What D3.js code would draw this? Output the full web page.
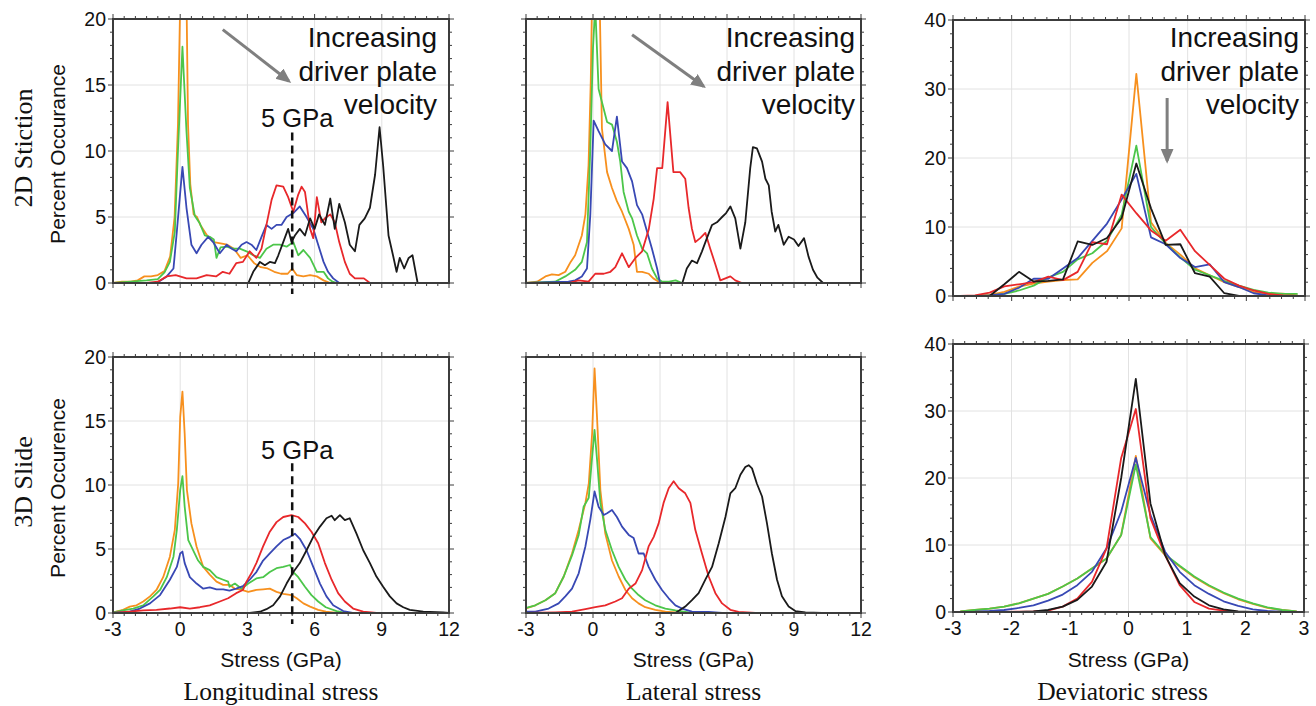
<!DOCTYPE html>
<html>
<head>
<meta charset="utf-8">
<script src="https://cdn.jsdelivr.net/npm/d3@7"></script>
<style>
  html, body { margin: 0; padding: 0; background: #fff; }
  svg { display: block; }
</style>
</head>
<body>
<div id="chart"></div>
<script>
// Stress histograms, 2D stiction vs 3D slide
// series order everywhere: orange, green, blue, red, black (slow -> fast driver plate)

const seriesColors = ["#f7901e", "#4cc64a", "#3848b4", "#e8282b", "#1a1a1a"];

// --- 2D Stiction, longitudinal stress [GPa, %] ---
const stLongOrange = [[-3,0],[-2.6,0.1],[-2.2,0.1],[-1.9,0.2],[-1.6,0.5],[-1.3,0.5],[-1.0,0.6],[-0.7,0.9],[-0.45,2],[-0.25,5],[-0.1,12],[0.05,26],[0.25,26],[0.35,12],[0.45,7.5],[0.6,5.2],[0.75,5.0],[0.9,4.4],[1.2,3.6],[1.5,3.1],[1.8,3.0],[2.1,2.9],[2.4,2.6],[2.7,1.9],[3.0,2.1],[3.3,1.5],[3.6,1.2],[3.9,1.1],[4.2,0.85],[4.5,0.7],[4.8,0.7],[5.0,1.1],[5.2,0.6],[5.5,0.5],[5.8,0.6],[6.1,0.5],[6.4,0.2],[6.7,0]];
const stLongGreen = [[-3,0],[-2.2,0.1],[-1.5,0.2],[-1.0,0.3],[-0.7,0.8],[-0.46,1.6],[-0.24,3.9],[-0.1,10],[0.1,17.9],[0.28,11.5],[0.43,7.2],[0.65,5.1],[0.88,4.5],[1.1,3.6],[1.32,3.5],[1.5,3.3],[1.62,1.9],[1.8,2.7],[2.07,2.75],[2.37,2.6],[2.66,2.6],[2.96,2.4],[3.26,2.1],[3.56,1.9],[3.85,2.6],[4.15,2.9],[4.45,2.9],[4.75,2.75],[5.05,3.1],[5.27,2.1],[5.5,2.5],[5.8,1.9],[6.1,0.85],[6.4,0.85],[6.6,0.35],[6.8,0.1],[7.0,0]];
const stLongBlue = [[-3,0],[-1.05,0],[-0.6,0.5],[-0.3,1.1],[-0.15,3.9],[0.1,8.8],[0.28,5.7],[0.5,2.9],[0.73,2.25],[0.95,2.9],[1.25,3.5],[1.47,3.1],[1.77,2.25],[2.07,2.9],[2.3,2.6],[2.5,2.4],[2.74,2.9],[2.96,3.1],[3.18,2.9],[3.4,2.5],[3.63,3.5],[3.85,4.4],[4.08,4.1],[4.3,4.4],[4.52,4.4],[4.75,5.0],[5.05,5.3],[5.34,5.8],[5.64,5.0],[5.94,4.1],[6.16,2.9],[6.4,1.6],[6.6,0.85],[6.83,0.35],[7.1,0]];
const stLongRed = [[-3,0],[-1.5,0],[-1.0,0.1],[-0.6,0.5],[-0.2,0.6],[0.28,0.35],[0.73,0.35],[1.18,0.6],[1.6,0.5],[1.9,0.85],[2.2,0.7],[2.5,1.5],[2.8,1.6],[3.1,2.4],[3.4,1.9],[3.63,2.6],[3.85,4.4],[4.08,6.3],[4.3,7.4],[4.6,7.3],[4.82,6.5],[5.05,5.4],[5.27,6.7],[5.42,7.3],[5.57,6.9],[5.8,4.1],[5.94,3.4],[6.1,6.5],[6.3,4.6],[6.46,4.9],[6.7,5.2],[6.9,4.6],[7.1,3.1],[7.35,1.6],[7.57,0.7],[7.8,0.35],[8.2,0.35],[8.47,0]];
const stLongBlack = [[3.04,0],[3.26,0.85],[3.56,1.6],[3.78,1.35],[4.0,1.6],[4.23,1.5],[4.38,2.1],[4.6,3.1],[4.82,4.1],[4.97,3.1],[5.12,3.6],[5.34,4.1],[5.57,3.6],[5.8,4.9],[6.0,4.1],[6.2,5.2],[6.46,4.4],[6.7,6.4],[6.9,4.1],[7.1,6.0],[7.35,4.6],[7.57,2.9],[7.8,2.4],[8.0,4.4],[8.24,4.9],[8.47,5.7],[8.7,8.2],[8.9,11.8],[9.06,8.9],[9.3,3.6],[9.5,2.1],[9.66,0.85],[9.8,1.9],[10.0,1.1],[10.2,1.9],[10.37,2.1],[10.6,0]];

// --- 2D Stiction, lateral stress ---
const stLatOrange = [[-3,0],[-2.5,0.1],[-2.13,0.5],[-1.84,0.65],[-1.54,0.6],[-1.24,0.85],[-1.0,1.6],[-0.8,2.1],[-0.64,2.9],[-0.5,3.6],[-0.34,5.2],[-0.2,8.9],[-0.1,15.3],[0.0,26],[0.25,26],[0.4,11.7],[0.63,8.4],[0.85,7.2],[1.07,6.2],[1.3,5.4],[1.6,4.1],[1.82,2.9],[1.97,0.85],[2.2,0.85],[2.5,0.7],[2.7,0.35],[2.94,0.1],[3.2,0]];
const stLatGreen = [[-3,0],[-1.7,0.1],[-1.24,0.5],[-0.8,1.0],[-0.5,1.6],[-0.27,3.1],[-0.12,10.2],[0.0,17.8],[0.1,21],[0.25,14.7],[0.63,12.2],[0.85,12.0],[1.07,10.7],[1.22,9.2],[1.37,6.9],[1.6,5.4],[1.75,4.9],[1.97,3.6],[2.2,2.6],[2.42,2.25],[2.64,1.1],[2.87,0.35],[3.1,0.1],[3.4,0.1],[3.7,0.2],[4.0,0]];
const stLatBlue = [[-3,0],[-1.1,0.1],[-0.8,0.2],[-0.5,0.5],[-0.27,1.1],[-0.12,5.2],[0.03,12.3],[0.25,11.5],[0.55,10.5],[0.85,10.0],[1.07,12.6],[1.3,9.2],[1.52,8.7],[1.75,7.7],[1.97,5.9],[2.2,5.2],[2.42,3.9],[2.64,2.6],[2.87,1.1],[3.0,0]];
const stLatRed = [[-1.1,0],[-0.64,0.2],[-0.2,0.1],[0.1,0.7],[0.48,0.7],[0.78,0.85],[1.0,1.2],[1.3,2.25],[1.6,1.2],[1.9,1.9],[2.2,2.4],[2.5,4.1],[2.72,6.4],[2.87,8.7],[3.1,8.7],[3.34,13.7],[3.6,8.4],[3.9,8.4],[4.13,7.9],[4.28,5.7],[4.43,4.1],[4.58,3.1],[4.8,3.4],[5.03,3.8],[5.25,2.6],[5.48,1.4],[5.7,0.2],[5.93,0.35],[6.15,0.5],[6.37,0.2],[6.67,0]];
const stLatBlack = [[4.0,0],[4.2,1.1],[4.43,1.7],[4.66,1.5],[4.88,2.4],[5.1,3.4],[5.33,4.4],[5.55,4.6],[5.78,5.0],[5.96,5.3],[6.15,5.8],[6.37,4.9],[6.6,2.6],[6.82,4.6],[7.04,8.7],[7.16,10.3],[7.34,10.2],[7.57,9.2],[7.72,7.9],[7.87,7.4],[8.0,5.4],[8.16,3.9],[8.3,4.4],[8.54,2.9],[8.76,3.5],[9.0,3.3],[9.2,2.8],[9.45,3.4],[9.65,2.0],[9.85,1.0],[10.05,0.4],[10.3,0]];

// --- deviatoric stress, bin centres ---
const devX = [-2.875,-2.625,-2.375,-2.125,-1.875,-1.625,-1.375,-1.125,-0.875,-0.625,-0.375,-0.125,0.125,0.375,0.625,0.875,1.125,1.375,1.625,1.875,2.125,2.375,2.625,2.875];

const stDevOrange = [0,0,0.15,0.6,1.35,1.8,2.1,2.3,2.4,4.8,6.5,9.8,32.2,10.7,7.7,6.0,4.0,3.0,2.0,1.3,0.6,0.3,0.35,0.1];
const stDevGreen  = [0,0,0.1,0.3,0.8,1.5,2.7,3.5,5.3,6.2,8.0,11.8,21.8,10.0,7.6,5.6,3.8,3.0,2.2,1.5,0.9,0.5,0.3,0.3];
const stDevBlue   = [0,0,0.1,0.3,1.2,2.5,2.5,4.0,5.5,8.0,10.5,14.0,17.7,8.5,7.5,5.5,4.2,4.6,2.0,1.3,0.4,0.1,0,0];
const stDevRed    = [0,0.1,0.5,1.4,1.7,2.0,2.8,2.3,3.5,7.8,7.5,14.7,12.0,9.5,8.0,9.6,6.5,4.5,2.5,1.5,0.8,0.3,0.1,0];
const stDevBlack  = [0,0,0,1.7,3.5,2.1,2.2,2.4,7.9,7.4,8.4,11.3,19.2,12.7,7.4,7.5,3.3,2.8,0.4,0,0,0,0,0];

// --- 3D Slide, longitudinal stress ---
const ssLongOrange = [[-3,0.05],[-2.55,0.25],[-2.25,0.5],[-1.95,0.6],[-1.65,0.9],[-1.35,1.3],[-1.06,1.8],[-0.76,2.8],[-0.46,4.4],[-0.24,6.5],[-0.09,10.1],[0.0,15.3],[0.1,17.3],[0.2,14],[0.3,9.6],[0.5,7.0],[0.73,5.2],[1.03,3.6],[1.32,3.0],[1.62,2.45],[1.92,2.2],[2.2,2.2],[2.44,1.9],[2.74,1.8],[3.04,1.65],[3.4,1.8],[3.7,1.85],[4.0,1.9],[4.3,1.65],[4.6,1.5],[4.97,1.4],[5.2,1.15],[5.5,0.75],[5.8,0.5],[6.16,0.25],[6.5,0.1],[7.0,0]];
const ssLongGreen = [[-3,0.05],[-2.55,0.2],[-2.1,0.35],[-1.65,0.6],[-1.2,1.3],[-0.9,1.8],[-0.6,2.8],[-0.3,4.4],[-0.15,6.5],[0,9.6],[0.1,10.7],[0.2,8.3],[0.36,5.7],[0.58,4.9],[0.8,4.1],[1.03,3.6],[1.32,3.35],[1.62,2.8],[1.92,2.6],[2.14,2.45],[2.2,2.05],[2.44,2.3],[2.74,1.9],[3.04,2.3],[3.4,2.7],[3.7,2.8],[4.0,3.2],[4.3,3.5],[4.6,3.6],[4.9,3.75],[5.05,3.2],[5.27,2.8],[5.57,2.05],[5.86,1.4],[6.16,0.9],[6.5,0.45],[6.98,0.15],[7.4,0]];
const ssLongBlue = [[-3,0],[-2.25,0.1],[-1.8,0.35],[-1.35,0.75],[-0.9,1.4],[-0.46,2.6],[-0.15,3.6],[0,4.65],[0.1,4.8],[0.2,3.9],[0.43,2.8],[0.73,2.3],[1.03,1.9],[1.32,2.0],[1.62,1.85],[1.92,1.85],[2.2,1.75],[2.5,1.9],[2.8,2.1],[3.1,2.6],[3.4,3.2],[3.7,4.1],[4.0,4.65],[4.3,5.2],[4.6,5.7],[4.9,5.95],[5.12,6.2],[5.34,5.8],[5.64,4.9],[5.94,3.6],[6.24,2.3],[6.53,1.3],[6.83,0.6],[7.28,0.15],[7.7,0]];
const ssLongRed = [[-3,0],[-2.25,0.1],[-1.65,0.2],[-1.06,0.25],[-0.46,0.35],[0,0.45],[0.43,0.35],[0.88,0.45],[1.32,0.6],[1.77,0.9],[2.14,1.15],[2.5,1.55],[2.8,1.8],[2.96,2.45],[3.18,3.1],[3.4,3.9],[3.7,5.2],[4.0,6.35],[4.3,7.1],[4.6,7.5],[4.97,7.65],[5.27,7.5],[5.57,7.0],[5.86,6.35],[6.16,5.45],[6.46,3.9],[6.76,2.6],[7.05,1.55],[7.35,0.9],[7.72,0.35],[8.17,0.1],[8.76,0]];
const ssLongBlack = [[3.1,0],[3.56,0.1],[3.85,0.3],[4.15,0.6],[4.46,1.3],[4.75,2.3],[5.05,3.2],[5.34,3.9],[5.64,4.9],[5.94,5.95],[6.24,6.75],[6.53,7.4],[6.76,7.6],[6.9,7.25],[7.13,7.65],[7.35,7.25],[7.57,7.4],[7.87,6.2],[8.17,4.9],[8.47,3.9],[8.76,2.85],[9.06,2.05],[9.36,1.3],[9.66,0.75],[9.96,0.45],[10.25,0.25],[10.85,0.1],[11.74,0.05],[12,0]];

// --- 3D Slide, lateral stress ---
const ssLatOrange = [[-3,0.35],[-2.58,0.6],[-2.13,1.0],[-1.69,1.55],[-1.31,2.85],[-0.94,4.65],[-0.64,6.5],[-0.34,8.6],[-0.19,10.1],[-0.04,14],[0.07,19.1],[0.18,15.3],[0.33,9.6],[0.55,6.2],[0.85,4.1],[1.15,2.85],[1.45,1.8],[1.75,1.15],[2.04,0.75],[2.34,0.45],[2.79,0.25],[3.24,0.1],[3.84,0.03],[4.3,0]];
const ssLatGreen = [[-3,0.4],[-2.58,0.6],[-2.13,1.0],[-1.69,1.55],[-1.31,2.85],[-0.94,4.5],[-0.64,6.1],[-0.42,8.3],[-0.19,9.0],[-0.04,12.2],[0.07,14.3],[0.18,12],[0.33,8.6],[0.55,6.5],[0.85,4.9],[1.15,3.6],[1.45,2.6],[1.75,1.9],[2.04,1.4],[2.34,1.0],[2.79,0.6],[3.24,0.35],[3.69,0.2],[4.28,0.05],[4.8,0]];
const ssLatBlue = [[-3,0.1],[-2.58,0.1],[-1.99,0.35],[-1.54,0.75],[-1.24,1.3],[-0.94,1.9],[-0.64,3.1],[-0.34,5.2],[-0.12,7.3],[0.07,9.5],[0.25,8.3],[0.48,7.65],[0.63,7.8],[0.85,8.05],[1.07,7.5],[1.3,6.75],[1.6,6.1],[1.82,5.85],[2.04,4.65],[2.27,4.65],[2.49,3.6],[2.79,2.6],[3.09,1.8],[3.39,1.15],[3.69,0.6],[3.99,0.35],[4.43,0.1],[5.18,0.08],[5.78,0]];
const ssLatRed = [[-3,0],[-1.69,0.05],[-0.94,0.1],[-0.34,0.3],[0.1,0.45],[0.55,0.6],[1.0,0.9],[1.3,1.15],[1.6,1.9],[1.9,2.3],[2.2,3.35],[2.49,5.2],[2.72,5.95],[2.94,7.0],[3.16,8.6],[3.39,9.75],[3.61,10.3],[3.84,9.75],[4.13,9.35],[4.36,8.6],[4.58,6.5],[4.88,4.65],[5.18,2.85],[5.48,1.55],[5.78,0.75],[6.15,0.25],[6.52,0.08],[7.27,0]];
const ssLatBlack = [[3.69,0],[4.13,0.5],[4.43,1.0],[4.73,1.55],[5.03,2.6],[5.33,3.6],[5.63,5.45],[5.93,7.5],[6.15,9.35],[6.37,9.75],[6.6,10.8],[6.82,11.4],[6.97,11.55],[7.12,11.3],[7.34,10.1],[7.57,9.1],[7.79,7.0],[8.01,4.65],[8.24,2.6],[8.46,1.3],[8.76,0.5],[9.06,0.15],[9.51,0.05],[10.25,0]];

// --- 3D Slide, deviatoric stress ---
const ssDevOrange = [0.1,0.3,0.5,0.8,1.3,2.0,2.7,3.8,5.0,6.5,8.0,11.5,23.3,11.0,8.5,6.8,5.2,3.9,2.8,1.9,1.2,0.6,0.3,0.1];
const ssDevGreen  = [0.1,0.3,0.5,0.8,1.3,2.0,2.7,3.8,5.0,6.5,8.0,11.5,22.0,11.2,8.6,6.9,5.3,4.0,2.9,2.0,1.3,0.7,0.3,0.1];
const ssDevBlue   = [0,0.05,0.15,0.3,0.6,1.0,1.7,2.6,4.0,6.0,9.5,15.0,23.0,14.5,9.0,6.0,4.0,2.7,1.6,0.9,0.4,0.15,0.05,0];
const ssDevRed    = [0,0,0,0,0.05,0.1,0.2,0.8,2.0,4.5,9.5,23.0,30.3,14.0,8.5,4.0,1.5,0.5,0.2,0,0,0,0,0];
const ssDevBlack  = [0,0,0,0,0,0.1,0.3,0.8,1.8,3.8,7.5,20.0,34.8,16.2,8.5,4.3,2.3,1.0,0.4,0.1,0,0,0,0];

const rowLabels = ["2D Stiction", "3D Slide"];
const yTitles = ["Percent Occurance", "Percent Occurence"];
const colTitles = ["Longitudinal stress", "Lateral stress", "Deviatoric stress"];

const devPts = ys => devX.map((x, i) => [x, ys[i]]);

const W = 1316, H = 706;
const sans = "'Liberation Sans', Arial, Helvetica, sans-serif";
const serif = "'Liberation Serif', 'Times New Roman', serif";

const svg = d3.select("#chart").append("svg")
  .attr("width", W)
  .attr("height", H)
  .style("font-family", sans);

// arrow head for annotations
svg.append("defs").append("marker")
  .attr("id", "arrowhead")
  .attr("markerUnits", "userSpaceOnUse")
  .attr("markerWidth", 16).attr("markerHeight", 14)
  .attr("refX", 12).attr("refY", 6.5)
  .attr("orient", "auto")
  .append("path")
  .attr("d", "M0,0 L15,6.5 L0,13 Z")
  .attr("fill", "#7f7f7f");

const longDom = [-3, 12], devDom = [-3, 3];

const panels = [
  { id: "p1", row: 0, col: 0, left: 113, right: 449, top: 19, bottom: 283, xDom: longDom, yDom: [0, 20],
    xStep: 3, xMinor: 0.5, yStep: 5, yMinor: 1, yLabels: true, xLabels: false,
    series: [stLongOrange, stLongGreen, stLongBlue, stLongRed, stLongBlack],
    arrow: [[1.9, 19.2], [4.85, 15.3]], note: 437, gpa: { label: 11.8, top: 11.4 } },
  { id: "p2", row: 0, col: 1, left: 526, right: 861, top: 19, bottom: 283, xDom: longDom, yDom: [0, 20],
    xStep: 3, xMinor: 0.5, yStep: 5, yMinor: 1, yLabels: false, xLabels: false,
    series: [stLatOrange, stLatGreen, stLatBlue, stLatRed, stLatBlack],
    arrow: [[1.75, 18.8], [4.95, 14.9]], note: 855 },
  { id: "p3", row: 0, col: 2, left: 953, right: 1305, top: 20, bottom: 296, xDom: devDom, yDom: [0, 40],
    xStep: 1, xMinor: 0.2, yStep: 10, yMinor: 2, yLabels: true, xLabels: false,
    series: [stDevOrange, stDevGreen, stDevBlue, stDevRed, stDevBlack].map(devPts),
    arrow: [[0.65, 28.7], [0.65, 19.6]], note: 1299 },
  { id: "p4", row: 1, col: 0, left: 113, right: 449, top: 357, bottom: 613, xDom: longDom, yDom: [0, 20],
    xStep: 3, xMinor: 0.5, yStep: 5, yMinor: 1, yLabels: true, xLabels: true,
    series: [ssLongOrange, ssLongGreen, ssLongBlue, ssLongRed, ssLongBlack],
    gpa: { label: 12.0, top: 11.7 } },
  { id: "p5", row: 1, col: 1, left: 526, right: 861, top: 357, bottom: 613, xDom: longDom, yDom: [0, 20],
    xStep: 3, xMinor: 0.5, yStep: 5, yMinor: 1, yLabels: false, xLabels: true,
    series: [ssLatOrange, ssLatGreen, ssLatBlue, ssLatRed, ssLatBlack] },
  { id: "p6", row: 1, col: 2, left: 953, right: 1304, top: 344, bottom: 612, xDom: devDom, yDom: [0, 40],
    xStep: 1, xMinor: 0.2, yStep: 10, yMinor: 2, yLabels: true, xLabels: true,
    series: [ssDevOrange, ssDevGreen, ssDevBlue, ssDevRed, ssDevBlack].map(devPts) }
];

const steps = (dom, s) => d3.range(0, Math.round((dom[1] - dom[0]) / s) + 1).map(i => +(dom[0] + i * s).toFixed(4));
const isMajor = (v, dom, s) => Math.abs((v - dom[0]) / s - Math.round((v - dom[0]) / s)) < 1e-6;

panels.forEach(p => {
  const x = d3.scaleLinear().domain(p.xDom).range([p.left, p.right]);
  const y = d3.scaleLinear().domain(p.yDom).range([p.bottom, p.top]);
  const g = svg.append("g").attr("class", "panel");

  const xMaj = steps(p.xDom, p.xStep);
  const yMaj = steps(p.yDom, p.yStep);

  // grid
  g.append("g").selectAll("line").data(xMaj.slice(1, -1)).join("line")
    .attr("x1", d => x(d)).attr("x2", d => x(d))
    .attr("y1", p.top).attr("y2", p.bottom)
    .attr("stroke", "#e2e2e2").attr("stroke-width", 1);
  g.append("g").selectAll("line").data(yMaj.slice(1, -1)).join("line")
    .attr("y1", d => y(d)).attr("y2", d => y(d))
    .attr("x1", p.left).attr("x2", p.right)
    .attr("stroke", "#e2e2e2").attr("stroke-width", 1);

  // curves
  g.append("clipPath").attr("id", "clip-" + p.id)
    .append("rect")
    .attr("x", p.left).attr("y", p.top)
    .attr("width", p.right - p.left).attr("height", p.bottom - p.top);

  const line = d3.line().x(d => x(d[0])).y(d => y(d[1]));

  g.append("g").attr("clip-path", `url(#clip-${p.id})`)
    .selectAll("path").data(p.series).join("path")
    .attr("d", line)
    .attr("fill", "none")
    .attr("stroke", (d, i) => seriesColors[i])
    .attr("stroke-width", 1.8)
    .attr("stroke-linejoin", "round");

  // frame
  g.append("rect")
    .attr("x", p.left).attr("y", p.top)
    .attr("width", p.right - p.left).attr("height", p.bottom - p.top)
    .attr("fill", "none").attr("stroke", "#3c3c3c").attr("stroke-width", 2);

  // ticks, outward on all four sides
  const tx = steps(p.xDom, p.xMinor).map(v => ({ v, len: isMajor(v, p.xDom, p.xStep) ? 5 : 3 }));
  const ty = steps(p.yDom, p.yMinor).map(v => ({ v, len: isMajor(v, p.yDom, p.yStep) ? 5 : 3 }));
  const ticks = g.append("g").attr("stroke", "#3c3c3c").attr("stroke-width", 1);
  tx.forEach(t => {
    ticks.append("line").attr("x1", x(t.v)).attr("x2", x(t.v)).attr("y1", p.bottom).attr("y2", p.bottom + t.len);
    ticks.append("line").attr("x1", x(t.v)).attr("x2", x(t.v)).attr("y1", p.top).attr("y2", p.top - t.len);
  });
  ty.forEach(t => {
    ticks.append("line").attr("y1", y(t.v)).attr("y2", y(t.v)).attr("x1", p.left).attr("x2", p.left - t.len);
    ticks.append("line").attr("y1", y(t.v)).attr("y2", y(t.v)).attr("x1", p.right).attr("x2", p.right + t.len);
  });

  if (p.xLabels) {
    g.append("g").selectAll("text").data(xMaj).join("text")
      .attr("x", d => x(d)).attr("y", p.bottom + 23)
      .attr("text-anchor", "middle")
      .style("font-size", "19.5px").attr("fill", "#111")
      .text(d => String(d));

    g.append("text")
      .attr("x", (p.left + p.right) / 2).attr("y", 667)
      .attr("text-anchor", "middle")
      .style("font-size", "21px").attr("fill", "#111")
      .text("Stress (GPa)");

    g.append("text")
      .attr("x", (p.left + p.right) / 2 - (p.col === 2 ? 6 : 0)).attr("y", 700)
      .attr("text-anchor", "middle")
      .style("font-family", serif).style("font-size", "25.5px").attr("fill", "#111")
      .text(colTitles[p.col]);
  }

  if (p.yLabels) {
    g.append("g").selectAll("text").data(yMaj).join("text")
      .attr("x", p.left - 7).attr("y", d => y(d) + 7)
      .attr("text-anchor", "end")
      .style("font-size", "19.5px").attr("fill", "#111")
      .text(d => String(d));
  }

  // 5 GPa marker
  if (p.gpa) {
    g.append("line")
      .attr("x1", x(5)).attr("x2", x(5))
      .attr("y1", y(p.gpa.top)).attr("y2", p.bottom + 11)
      .attr("stroke", "#111").attr("stroke-width", 2.5)
      .attr("stroke-dasharray", "8,5");
    g.append("text")
      .attr("x", x(5) + 5).attr("y", y(p.gpa.label))
      .attr("text-anchor", "middle")
      .style("font-size", "25.5px").attr("fill", "#111")
      .text("5 GPa");
  }

  // "Increasing driver plate velocity" note
  if (p.note) {
    const t = g.append("text")
      .attr("text-anchor", "end")
      .style("font-size", "28px").attr("fill", "#111");
    ["Increasing", "driver plate", "velocity"].forEach((s, i) => {
      t.append("tspan").attr("x", p.note).attr("y", 47 + i * 33.5).text(s);
    });
    g.append("line")
      .attr("x1", x(p.arrow[0][0])).attr("y1", y(p.arrow[0][1]))
      .attr("x2", x(p.arrow[1][0])).attr("y2", y(p.arrow[1][1]))
      .attr("stroke", "#7f7f7f").attr("stroke-width", 3)
      .attr("marker-end", "url(#arrowhead)");
  }

  // row labels on the left column
  if (p.col === 0) {
    const cy = (p.top + p.bottom) / 2;
    svg.append("text")
      .attr("transform", `translate(65,${cy + 3}) rotate(-90)`)
      .attr("text-anchor", "middle")
      .style("font-size", "21px").attr("fill", "#111")
      .text(yTitles[p.row]);
    svg.append("text")
      .attr("transform", `translate(32,${cy - 3}) rotate(-90)`)
      .attr("text-anchor", "middle")
      .style("font-family", serif).style("font-size", "26px").attr("fill", "#111")
      .text(rowLabels[p.row]);
  }
});
</script>
</body>
</html>
